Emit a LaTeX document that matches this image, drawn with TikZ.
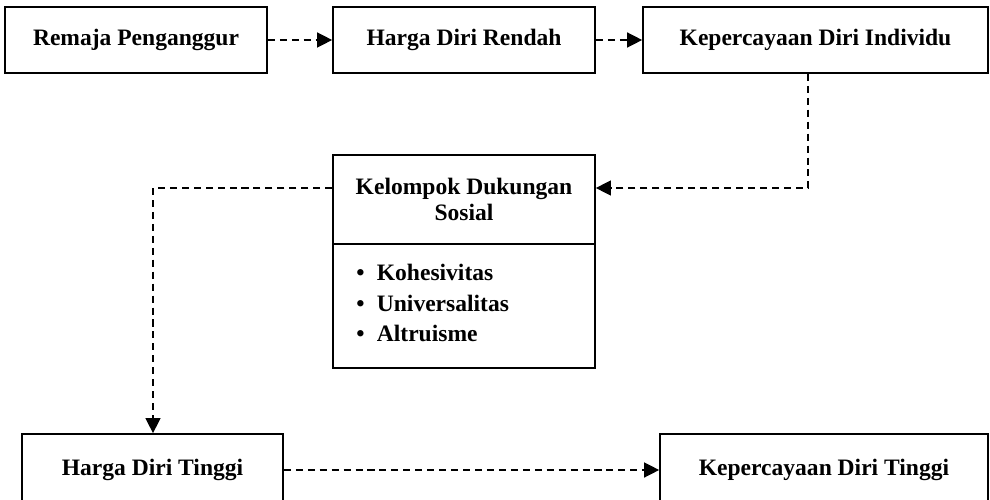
\documentclass[tikz,border=0pt]{standalone}
\usepackage{fontspec}
\setmainfont{Liberation Serif}
\usetikzlibrary{arrows.meta}
\tikzset{kotak/.style={draw,line width=1pt,inner sep=0pt,font=\bfseries\fontsize{13.4}{14.7}\selectfont}}
\tikzset{alur/.style={dash pattern=on 4pt off 2.8pt,line width=0.8pt,-{Triangle[length=8.5pt,width=8.5pt]}}}

\begin{document}
\begin{tikzpicture}[x=0.02cm,y=-0.02cm]
  \clip (0,0) rectangle (990,500);

  % top row
  \node[kotak,minimum width=5.24cm,minimum height=1.32cm] (rp)  at (136,40)   {Remaja Penganggur};
  \node[kotak,minimum width=5.24cm,minimum height=1.32cm] (hdr) at (464,40)   {Harga Diri Rendah};
  \node[kotak,minimum width=6.9cm,minimum height=1.32cm]  (kdi) at (815.5,40) {Kepercayaan Diri Individu};

  % middle box
  \node[kotak,minimum width=5.24cm,minimum height=1.78cm,align=center] (kds) at (464,199.5)
    {Kelompok Dukungan\\Sosial};
  \node[kotak,minimum width=5.24cm,minimum height=2.48cm] (daftar) at (464,306) {};
  \node[font=\bfseries\fontsize{13.4}{17.5}\selectfont,inner sep=0pt,anchor=west,align=left] (ciri) at (356,303)
    {\textbullet\hspace{7pt}Kohesivitas\\\textbullet\hspace{7pt}Universalitas\\\textbullet\hspace{7pt}Altruisme};

  % bottom row
  \node[kotak,minimum width=5.22cm,minimum height=1.44cm] (hdt) at (152.5,470) {Harga Diri Tinggi};
  \node[kotak,minimum width=6.56cm,minimum height=1.44cm] (kdt) at (824,470)   {Kepercayaan Diri Tinggi};

  \coordinate (bA) at (808,188);
  \coordinate (bB) at (153,188);

  \draw[alur] (rp) -- (hdr);
  \draw[alur] (hdr) -- (kdi);
  \draw[alur] (kdi.south -| bA) -- (bA) -- (kds.east |- bA);
  \draw[alur] (kds.west |- bA) -- (bB) -- (hdt.north -| bB);
  \draw[alur] (hdt) -- (kdt);
\end{tikzpicture}
\end{document}
